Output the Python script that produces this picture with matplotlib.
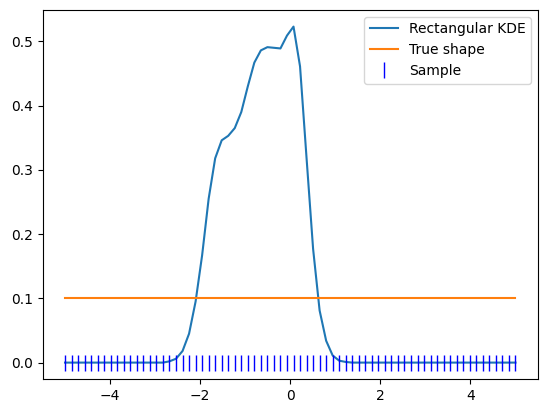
import numpy as np
from matplotlib import pyplot as plt

# grid the KDE is evaluated on (also where the sample ticks sit)
x_grid = np.linspace(-5, 5, 70)

# KDE values, index 0..69
kde_vals = [0.0] * 16 + [
    0.002, 0.006, 0.018, 0.045, 0.095,   # 16-20
    0.167, 0.255, 0.318, 0.346, 0.353,   # 21-25
    0.365, 0.390, 0.430, 0.467, 0.486,   # 26-30
    0.491, 0.490, 0.489, 0.509, 0.523,   # 31-35
    0.461, 0.318, 0.177, 0.081, 0.034,   # 36-40
    0.011, 0.003, 0.001,                 # 41-43
] + [0.0] * 26

true_x = [-5, 5]
true_y = [0.1, 0.1]

sample = np.linspace(-5, 5, 70)

fig = plt.figure(figsize=(5.47, 4.13), dpi=100)
ax = fig.add_axes([42.5 / 547, 33.6 / 413, 495.5 / 547, 369.6 / 413])

ax.plot(x_grid, kde_vals, label='Rectangular KDE')
ax.plot(true_x, true_y, label='True shape')
ax.plot(sample, np.zeros_like(sample), '|', color='blue', ms=11, label='Sample')
ax.legend()

fig.savefig('out.png', dpi=100)
